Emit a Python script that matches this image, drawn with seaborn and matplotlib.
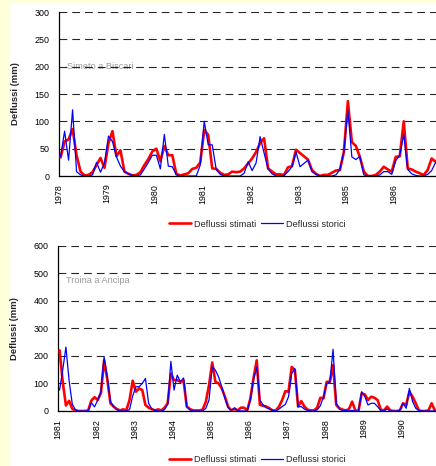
import numpy as np
import pandas as pd
import matplotlib
matplotlib.use("Agg")
import matplotlib.pyplot as plt
import seaborn as sns
from matplotlib.lines import Line2D
from matplotlib.patches import Rectangle

# ---------------- data ----------------
top_title = "Simeto a Biscari"
top_years = ["1978", "1979", "1980", "1981", "1982", "1983", "1985", "1986"]
top_stimati = [
    34, 63, 67, 86, 38, 8, 1, 2, 7, 20, 33, 15,
    60, 82, 36, 47, 8, 4, 1, 2, 7, 20, 31, 45,
    50, 27, 55, 38, 38, 4, 1, 3, 5, 13, 15, 25,
    84, 75, 14, 13, 6, 2, 3, 8, 7, 8, 14, 23,
    32, 44, 60, 69, 14, 8, 3, 3, 2, 16, 18, 48,
    42, 36, 30, 11, 4, 0, 2, 2, 6, 10, 11, 44,
    137, 62, 55, 35, 8, 0, 0, 2, 8, 17, 12, 8,
    35, 36, 100, 14, 12, 8, 5, 2, 11, 32, 26, 30,
]
top_storici = [
    35, 82, 29, 121, 8, 2, 0, 0, 2, 25, 7, 24,
    73, 63, 35, 18, 8, 4, 1, 0, 2, 13, 25, 38,
    38, 13, 76, 18, 17, 2, 0, 0, 0, 0, 0, 20,
    100, 57, 57, 12, 3, 0, 0, 0, 0, 0, 5, 26,
    10, 24, 72, 42, 13, 4, 0, 0, 1, 8, 17, 44,
    17, 23, 29, 8, 3, 0, 0, 0, 0, 2, 12, 45,
    120, 35, 30, 36, 2, 0, 0, 0, 2, 8, 8, 3,
    28, 38, 76, 12, 4, 1, 0, 0, 3, 10, 25, 30,
]

bottom_title = "Troina a Ancipa"
bottom_years = ["1981", "1982", "1983", "1984", "1985",
                "1986", "1987", "1988", "1989", "1990"]
bottom_stimati = [
    220, 105, 20, 37, 8, 2, 0, 0, 0, 2, 38, 50,
    40, 65, 184, 115, 28, 16, 7, 2, 6, 3, 40, 110,
    70, 82, 76, 22, 12, 7, 2, 6, 2, 12, 28, 136,
    112, 112, 106, 110, 16, 7, 2, 2, 2, 5, 34, 94,
    176, 106, 100, 82, 52, 16, 2, 7, 2, 12, 12, 2,
    45, 120, 184, 22, 19, 16, 10, 2, 2, 16, 40, 72,
    70, 160, 148, 16, 36, 16, 5, 2, 2, 12, 48, 46,
    106, 106, 166, 22, 10, 5, 2, 7, 34, 2, 0, 64,
    60, 40, 52, 48, 40, 5, 2, 16, 2, 0, 0, 2,
    28, 22, 70, 52, 28, 2, 0, 0, 2, 28, 2, 0,
]
bottom_storici = [
    76, 150, 232, 110, 25, 4, 0, 0, 0, 0, 30, 15,
    40, 70, 196, 124, 34, 16, 5, 0, 0, 0, 5, 55,
    88, 88, 100, 118, 28, 7, 2, 0, 0, 5, 25, 180,
    76, 130, 106, 120, 16, 4, 0, 0, 0, 0, 10, 40,
    160, 148, 124, 88, 46, 12, 2, 12, 2, 0, 0, 0,
    40, 115, 160, 40, 22, 12, 7, 2, 0, 7, 16, 24,
    52, 136, 154, 16, 16, 7, 2, 0, 0, 4, 19, 52,
    100, 106, 224, 28, 7, 2, 2, 0, 2, 0, 0, 70,
    52, 22, 28, 28, 16, 2, 0, 7, 0, 0, 0, 2,
    28, 10, 82, 35, 10, 2, 0, 0, 0, 0, 0, 0,
]

series_names = ["Deflussi stimati", "Deflussi storici"]

# ---------------- style ----------------
sns.set_style("white")
plt.rcParams['font.family'] = ['Liberation Sans', 'DejaVu Sans']

RED = "#FF0000"
BLUE = "#0000FF"
BG = "#FFFFD9"

W, H = 436, 466
fig = plt.figure(figsize=(W / 100, H / 100), dpi=100, facecolor=BG)
fig.add_artist(Rectangle((10 / W, 0), 1, (H - 3) / H, transform=fig.transFigure,
                         facecolor="white", edgecolor="none", zorder=0))


def draw_panel(ax, stimati, storici, years, ymax, ystep, xright, title, title_y):
    months = np.arange(len(stimati)) + 0.4
    df = pd.DataFrame({"mese": months, "stimati": stimati, "storici": storici})
    sns.lineplot(data=df, x="mese", y="stimati", ax=ax, color=RED, linewidth=1.9, zorder=3)
    sns.lineplot(data=df, x="mese", y="storici", ax=ax, color=BLUE, linewidth=0.9, zorder=4)
    ax.set_xlim(0, xright)
    ax.set_ylim(0, ymax)
    ax.set_yticks(np.arange(0, ymax + 1, ystep))
    ax.set_xticks(np.arange(len(years)) * 12)
    ax.set_xticklabels(years, rotation=90)
    ax.set_axisbelow(True)
    ax.grid(axis="y", color="black", linewidth=0.8, linestyle=(0, (7, 4.5)), alpha=0.85)
    ax.grid(axis="x", visible=False)
    for s in ["top", "right"]:
        ax.spines[s].set_visible(False)
    for s in ["left", "bottom"]:
        ax.spines[s].set_color("black")
        ax.spines[s].set_linewidth(0.9)
    ax.tick_params(axis="both", direction="out", length=3, width=0.8,
                   labelsize=6.4, colors="black", pad=2.5)
    ax.tick_params(axis="y", pad=4)
    ax.set_xlabel("")
    ax.set_ylabel("Deflussi (mm)", fontsize=6.8, fontweight="bold")
    ax.yaxis.set_label_coords(-0.103, 0.5)
    ax.text(0.02, title_y, title, transform=ax.get_yaxis_transform(),
            color="#9a9a9a", fontsize=6.6, va="center", ha="left", zorder=0.5)
    ax.set_facecolor("white")


ax1 = fig.add_axes([59 / W, (H - 176) / H, 377 / W, 164 / H])
draw_panel(ax1, top_stimati, top_storici, top_years, 300, 50,
           (W - 59) / 3.99, top_title, 200)

ax2 = fig.add_axes([58.3 / W, (H - 411) / H, 377.7 / W, 165.3 / H])
draw_panel(ax2, bottom_stimati, bottom_storici, bottom_years, 600, 100,
           (W - 58.3) / 3.18, bottom_title, 472)

handles = [Line2D([], [], color=RED, linewidth=1.9),
           Line2D([], [], color=BLUE, linewidth=0.9)]
for yc in (224, 460):
    fig.legend(handles, series_names, loc="center",
               bbox_to_anchor=(257 / W, (H - yc) / H), ncol=2, frameon=False,
               fontsize=6.6, handlelength=2.4, handletextpad=0.35,
               columnspacing=0.5, borderaxespad=0, borderpad=0)

fig.savefig("out.png", dpi=100, facecolor=BG)
